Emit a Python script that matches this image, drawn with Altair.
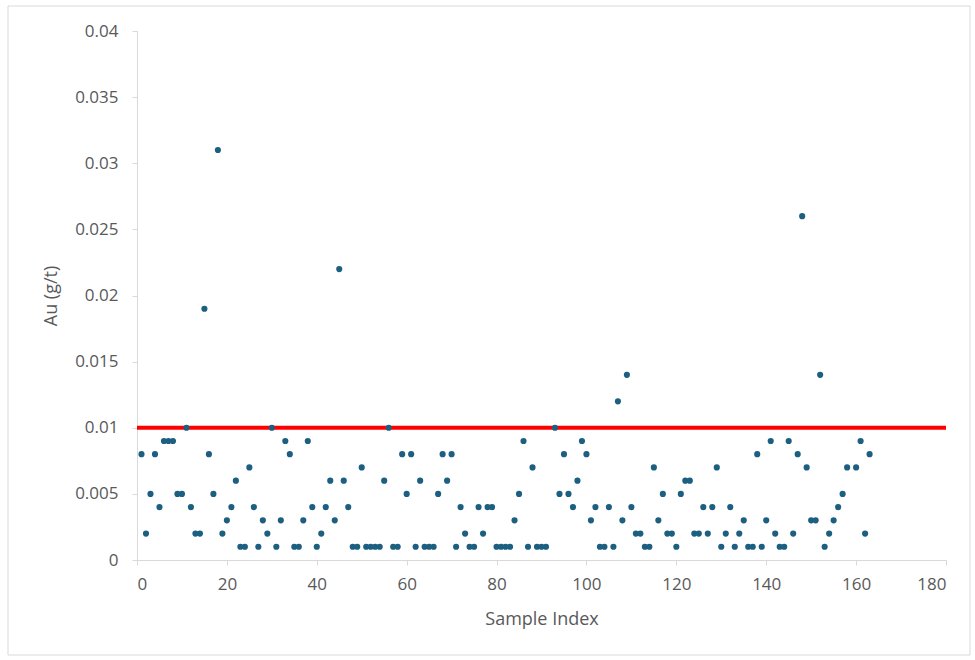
import altair as alt
import pandas as pd

# Au assay values (g/t) by sample index 1..163; None = no point plotted
au_values = [
    0.008, 0.002, 0.005, 0.008, 0.004, 0.009, 0.009, 0.009, 0.005, 0.005,
    0.010, 0.004, 0.002, 0.002, 0.019, 0.008, 0.005, 0.031, 0.002, 0.003,
    0.004, 0.006, 0.001, 0.001, 0.007, 0.004, 0.001, 0.003, 0.002, 0.010,
    0.001, 0.003, 0.009, 0.008, 0.001, 0.001, 0.003, 0.009, 0.004, 0.001,
    0.002, 0.004, 0.006, 0.003, 0.022, 0.006, 0.004, 0.001, 0.001, 0.007,
    0.001, 0.001, 0.001, 0.001, 0.006, 0.010, 0.001, 0.001, 0.008, 0.005,
    0.008, 0.001, 0.006, 0.001, 0.001, 0.001, 0.005, 0.008, 0.006, 0.008,
    0.001, 0.004, 0.002, 0.001, 0.001, 0.004, 0.002, 0.004, 0.004, 0.001,
    0.001, 0.001, 0.001, 0.003, 0.005, 0.009, 0.001, 0.007, 0.001, 0.001,
    0.001, None, 0.010, 0.005, 0.008, 0.005, 0.004, 0.006, 0.009, 0.008,
    0.003, 0.004, 0.001, 0.001, 0.004, 0.001, 0.012, 0.003, 0.014, 0.004,
    0.002, 0.002, 0.001, 0.001, 0.007, 0.003, 0.005, 0.002, 0.002, 0.001,
    0.005, 0.006, 0.006, 0.002, 0.002, 0.004, 0.002, 0.004, 0.007, 0.001,
    0.002, 0.004, 0.001, 0.002, 0.003, 0.001, 0.001, 0.008, 0.001, 0.003,
    0.009, 0.002, 0.001, 0.001, 0.009, 0.002, 0.008, 0.026, 0.007, 0.003,
    0.003, 0.014, 0.001, 0.002, 0.003, 0.004, 0.005, 0.007, None, 0.007,
    0.009, 0.002, 0.008,
]
sample_index = list(range(1, len(au_values) + 1))

threshold_x = [0, 180]
threshold_y = [0.01, 0.01]

x_ticks = [0, 20, 40, 60, 80, 100, 120, 140, 160, 180]
y_ticks = [0, 0.005, 0.01, 0.015, 0.02, 0.025, 0.03, 0.035, 0.04]

df = pd.DataFrame({"idx": sample_index, "au": au_values}).dropna()
thr = pd.DataFrame({"x": threshold_x, "y": threshold_y})

FONT = "Open Sans"
GREY = "#595959"
AXIS = "#d9d9d9"

x_enc = alt.X(
    "idx:Q",
    scale=alt.Scale(domain=[0, 180], nice=False, zero=False),
    axis=alt.Axis(
        values=x_ticks, grid=False, title="Sample Index",
        domainColor=AXIS, tickColor=AXIS, tickSize=5, labelPadding=11,
        labelFont=FONT, labelFontSize=17, labelColor=GREY,
        titleFont=FONT, titleFontSize=18, titleFontWeight="normal",
        titleColor=GREY, titlePadding=18,
    ),
)
y_enc = alt.Y(
    "au:Q",
    scale=alt.Scale(domain=[0, 0.04], nice=False),
    axis=alt.Axis(
        values=y_ticks, grid=False, title="Au (g/t)", format=".3~f",
        domainColor=AXIS, tickColor=AXIS, tickSize=5, labelPadding=14,
        labelFont=FONT, labelFontSize=17, labelColor=GREY,
        titleFont=FONT, titleFontSize=18, titleFontWeight="normal",
        titleColor=GREY, titlePadding=14,
    ),
)

line = alt.Chart(thr).mark_line(color="#ff0000", strokeWidth=4).encode(
    x=alt.X("x:Q", scale=alt.Scale(domain=[0, 180], nice=False)),
    y=alt.Y("y:Q", scale=alt.Scale(domain=[0, 0.04], nice=False)),
)

points = alt.Chart(df).mark_circle(size=38, color="#1d5f80", opacity=1).encode(
    x=x_enc, y=y_enc
)

border = alt.Chart(pd.DataFrame({"a": [0]})).mark_rect(
    fill=None, stroke="#d9d9d9", strokeWidth=1
).encode(
    x=alt.value(-129), x2=alt.value(833), y=alt.value(-25), y2=alt.value(624)
)

chart = (
    alt.layer(border, line, points)
    .resolve_scale(x="shared", y="shared")
    .properties(
        width=809, height=529,
        autosize=alt.AutoSizeParams(type="none"),
        padding={"left": 137, "top": 31, "right": 29, "bottom": 100},
        background="white",
    )
    .configure_view(stroke=None)
)

chart.save("out.html", embed_options={"renderer": "svg", "actions": False})
